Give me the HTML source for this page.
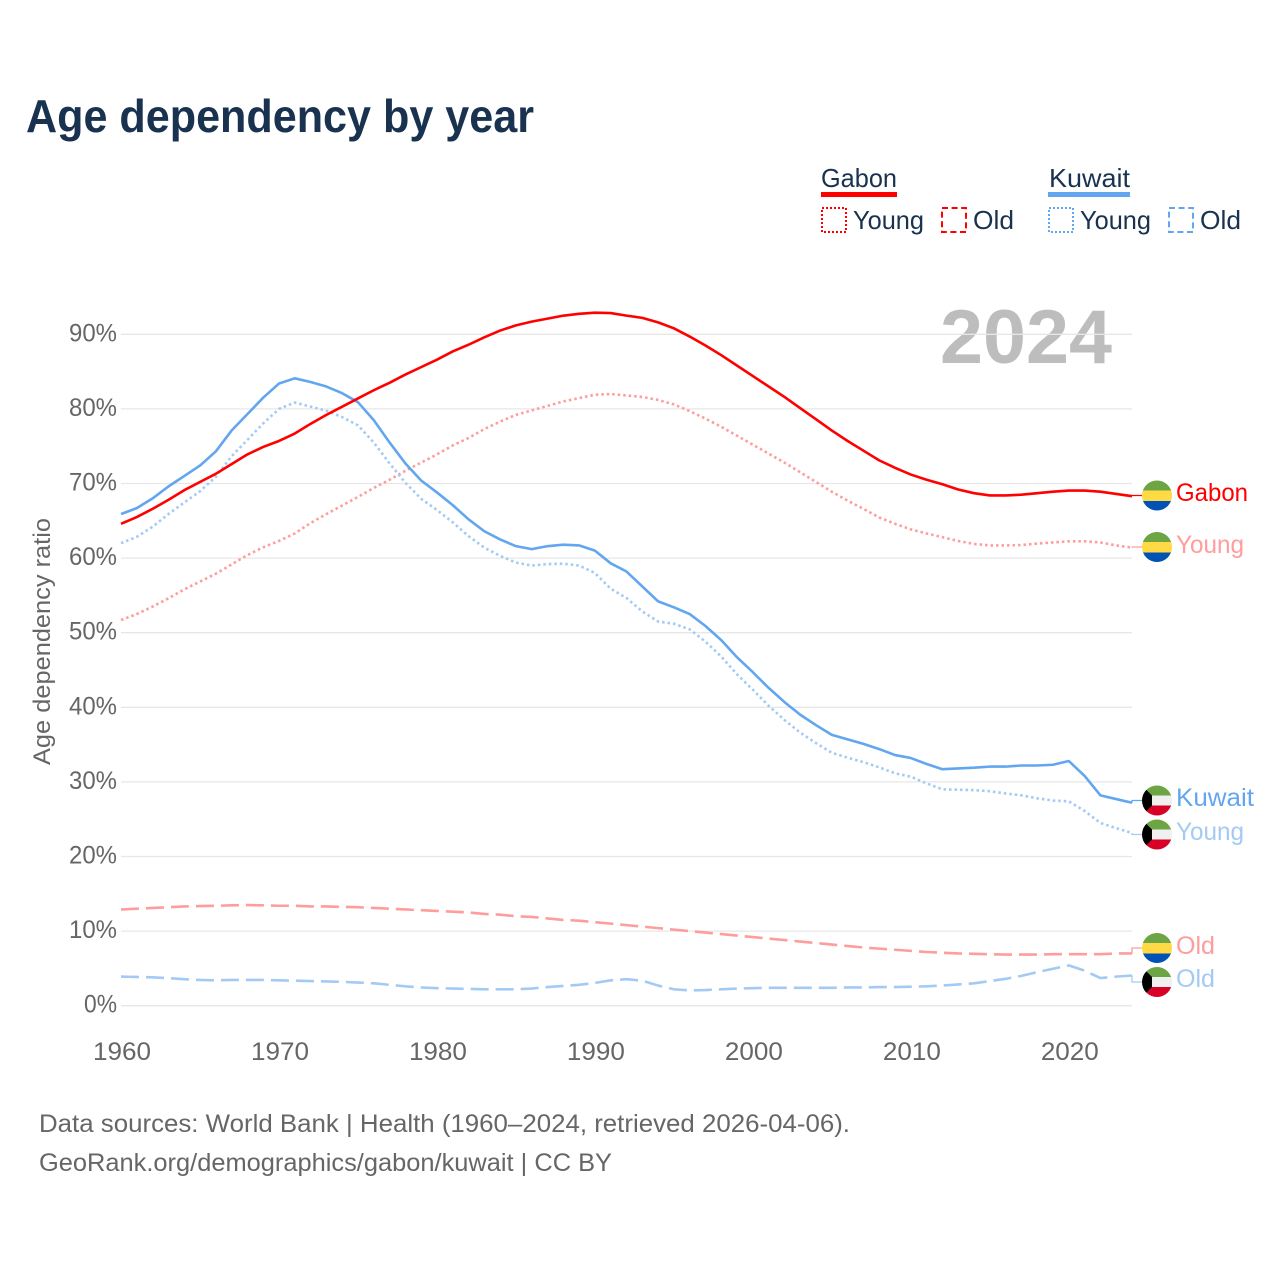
<!DOCTYPE html>
<html lang="en">
<head>
<meta charset="utf-8">
<title>Age dependency by year</title>
<style>
html,body{margin:0;padding:0;background:#fff}
svg{display:block}
text{font-family:"Liberation Sans",sans-serif}
</style>
</head>
<body>
<svg id="chart" xmlns="http://www.w3.org/2000/svg" width="1280" height="1280" viewBox="0 0 1280 1280">
<rect width="1280" height="1280" fill="#fff"/>
<text x="26" y="132" font-size="46" font-weight="700" fill="#18324f" textLength="508" lengthAdjust="spacingAndGlyphs">Age dependency by year</text>

<g font-size="26" fill="#18324f">
<text x="821" y="187" textLength="76" lengthAdjust="spacingAndGlyphs">Gabon</text>
<rect x="821" y="192" width="76" height="5" fill="#ff0000"/>
<rect x="822" y="208" width="24" height="24" fill="none" stroke="#ff0000" stroke-width="2" stroke-dasharray="2 2"/>
<text x="853" y="229" textLength="71" lengthAdjust="spacingAndGlyphs">Young</text>
<rect x="942" y="208" width="24" height="24" fill="none" stroke="#ff0000" stroke-width="2" stroke-dasharray="6 3.6"/>
<text x="973" y="229" textLength="41" lengthAdjust="spacingAndGlyphs">Old</text>
<text x="1049" y="187" textLength="81" lengthAdjust="spacingAndGlyphs">Kuwait</text>
<rect x="1048" y="192" width="82" height="5" fill="#62a6ef"/>
<rect x="1049" y="208" width="24" height="24" fill="none" stroke="#62a6ef" stroke-width="2" stroke-dasharray="2 2"/>
<text x="1080" y="229" textLength="71" lengthAdjust="spacingAndGlyphs">Young</text>
<rect x="1169" y="208" width="24" height="24" fill="none" stroke="#62a6ef" stroke-width="2" stroke-dasharray="6 3.6"/>
<text x="1200" y="229" textLength="41" lengthAdjust="spacingAndGlyphs">Old</text>
</g>

<text x="940" y="363" font-size="76" font-weight="700" fill="#bdbdbd" textLength="172" lengthAdjust="spacingAndGlyphs">2024</text>
<text transform="translate(50 765) rotate(-90)" font-size="24" fill="#666" textLength="247" lengthAdjust="spacingAndGlyphs">Age dependency ratio</text>

<g id="grid"></g>
<g id="yTickLabels"></g>
<g id="xTickLabels"></g>
<g id="series"></g>
<g id="connectors"></g>

<defs>
<clipPath id="flagClip"><circle cx="0" cy="0" r="15"/></clipPath>
</defs>

<g>
<g transform="translate(1157 495.5)" clip-path="url(#flagClip)"><rect x="-15" y="-15" width="30" height="10" fill="#6da544"/><rect x="-15" y="-5" width="30" height="10.5" fill="#ffda44"/><rect x="-15" y="5.5" width="30" height="10" fill="#0052b4"/></g>
<text x="1176" y="501" font-size="25" fill="#ff0000" textLength="72" lengthAdjust="spacingAndGlyphs">Gabon</text>
</g>
<g>
<g transform="translate(1157 547)" clip-path="url(#flagClip)"><rect x="-15" y="-15" width="30" height="10" fill="#6da544"/><rect x="-15" y="-5" width="30" height="10.5" fill="#ffda44"/><rect x="-15" y="5.5" width="30" height="10" fill="#0052b4"/></g>
<text x="1176" y="553" font-size="25" fill="#ff9c9c" textLength="68" lengthAdjust="spacingAndGlyphs">Young</text>
</g>
<g>
<g transform="translate(1157 800.5)" clip-path="url(#flagClip)"><rect x="-15" y="-15" width="30" height="10" fill="#6da544"/><rect x="-15" y="-5" width="30" height="10" fill="#f0f0f0"/><rect x="-15" y="5" width="30" height="10" fill="#d80027"/><polygon points="-15,-15 -5,-5 -5,5 -15,15" fill="#000"/></g>
<text x="1176" y="806" font-size="25" fill="#62a6ef" textLength="78" lengthAdjust="spacingAndGlyphs">Kuwait</text>
</g>
<g>
<g transform="translate(1157 834.5)" clip-path="url(#flagClip)"><rect x="-15" y="-15" width="30" height="10" fill="#6da544"/><rect x="-15" y="-5" width="30" height="10" fill="#f0f0f0"/><rect x="-15" y="5" width="30" height="10" fill="#d80027"/><polygon points="-15,-15 -5,-5 -5,5 -15,15" fill="#000"/></g>
<text x="1176" y="840" font-size="25" fill="#a3caf5" textLength="68" lengthAdjust="spacingAndGlyphs">Young</text>
</g>
<g>
<g transform="translate(1157 948)" clip-path="url(#flagClip)"><rect x="-15" y="-15" width="30" height="10" fill="#6da544"/><rect x="-15" y="-5" width="30" height="10.5" fill="#ffda44"/><rect x="-15" y="5.5" width="30" height="10" fill="#0052b4"/></g>
<text x="1176" y="954" font-size="25" fill="#ff9c9c" textLength="39" lengthAdjust="spacingAndGlyphs">Old</text>
</g>
<g>
<g transform="translate(1157 982)" clip-path="url(#flagClip)"><rect x="-15" y="-15" width="30" height="10" fill="#6da544"/><rect x="-15" y="-5" width="30" height="10" fill="#f0f0f0"/><rect x="-15" y="5" width="30" height="10" fill="#d80027"/><polygon points="-15,-15 -5,-5 -5,5 -15,15" fill="#000"/></g>
<text x="1176" y="987" font-size="25" fill="#a3caf5" textLength="39" lengthAdjust="spacingAndGlyphs">Old</text>
</g>

<text x="39" y="1132" font-size="25" fill="#666" textLength="811" lengthAdjust="spacingAndGlyphs">Data sources: World Bank | Health (1960–2024, retrieved 2026-04-06).</text>
<text x="39" y="1171" font-size="25" fill="#666" textLength="573" lengthAdjust="spacingAndGlyphs">GeoRank.org/demographics/gabon/kuwait | CC BY</text>
</svg>

<script>
const startYear = 1960;
const yTicks = [0, 10, 20, 30, 40, 50, 60, 70, 80, 90];
const xTicks = [1960, 1970, 1980, 1990, 2000, 2010, 2020];
const gabonTotal = [64.6,65.5,66.6,67.8,69.1,70.2,71.3,72.6,73.9,74.9,75.7,76.7,78.0,79.2,80.3,81.4,82.5,83.5,84.6,85.6,86.6,87.7,88.6,89.6,90.5,91.2,91.7,92.1,92.5,92.75,92.9,92.85,92.5,92.2,91.6,90.8,89.7,88.5,87.2,85.8,84.4,83.0,81.6,80.1,78.6,77.1,75.7,74.4,73.1,72.1,71.2,70.5,69.9,69.2,68.7,68.4,68.4,68.5,68.7,68.9,69.05,69.05,68.9,68.6,68.3];
const gabonYoung = [51.7,52.5,53.5,54.6,55.8,56.85,57.9,59.15,60.4,61.45,62.3,63.3,64.7,65.9,67.05,68.2,69.4,70.5,71.7,72.8,73.9,75.1,76.1,77.3,78.3,79.2,79.8,80.4,81.0,81.45,81.9,82.0,81.8,81.6,81.2,80.6,79.7,78.7,77.6,76.4,75.2,74.0,72.8,71.5,70.2,68.9,67.7,66.6,65.45,64.6,63.85,63.3,62.8,62.3,61.9,61.7,61.7,61.75,61.95,62.1,62.25,62.25,62.1,61.7,61.4];
const gabonOld = [12.9,13.0,13.1,13.2,13.3,13.35,13.4,13.45,13.5,13.45,13.4,13.4,13.3,13.3,13.25,13.2,13.1,13.0,12.9,12.8,12.7,12.6,12.5,12.3,12.2,12.0,11.9,11.7,11.5,11.4,11.2,11.0,10.8,10.6,10.4,10.2,10.0,9.8,9.6,9.4,9.2,9.0,8.8,8.6,8.4,8.2,8.0,7.8,7.65,7.5,7.35,7.2,7.1,7.0,6.95,6.9,6.85,6.85,6.85,6.9,6.9,6.9,6.9,7.0,7.0];
const kuwaitTotal = [65.9,66.7,68.0,69.6,71.0,72.4,74.3,77.1,79.3,81.5,83.4,84.1,83.6,83.0,82.1,80.9,78.5,75.5,72.7,70.4,68.8,67.1,65.2,63.6,62.5,61.6,61.2,61.6,61.8,61.7,61.0,59.3,58.2,56.2,54.2,53.4,52.5,50.9,49.0,46.7,44.7,42.6,40.7,39.0,37.6,36.3,35.7,35.1,34.4,33.6,33.2,32.4,31.7,31.8,31.9,32.05,32.05,32.2,32.2,32.3,32.8,30.8,28.2,27.7,27.2];
const kuwaitYoung = [62.0,62.85,64.2,65.9,67.45,68.95,70.9,73.65,75.85,78.05,80.0,80.85,80.3,79.75,78.9,77.8,75.5,72.7,70.1,67.95,66.45,64.8,62.95,61.4,60.3,59.4,59.0,59.2,59.25,59.0,58.0,55.9,54.65,52.85,51.5,51.2,50.45,48.8,46.8,44.4,42.35,40.2,38.3,36.6,35.2,33.9,33.25,32.65,31.95,31.15,30.7,29.8,29.0,28.95,28.9,28.75,28.45,28.2,27.8,27.5,27.4,26.1,24.5,23.8,23.15];
const kuwaitOld = [3.9,3.85,3.8,3.7,3.55,3.45,3.4,3.45,3.45,3.45,3.4,3.35,3.3,3.25,3.2,3.1,3.0,2.8,2.6,2.45,2.35,2.3,2.25,2.2,2.2,2.2,2.3,2.5,2.65,2.8,3.05,3.4,3.55,3.35,2.7,2.2,2.05,2.1,2.2,2.3,2.35,2.4,2.4,2.4,2.4,2.4,2.45,2.45,2.5,2.5,2.55,2.6,2.7,2.85,3.0,3.3,3.6,4.0,4.5,4.95,5.4,4.7,3.7,3.9,4.05];

const NS = 'http://www.w3.org/2000/svg';
const xScale = function (year) { return 121 + (year - 1960) * (1132 - 121) / 64; };
const yScale = function (v) { return 1005.7 - v * 7.46; };
const DOTTED = '2.5 3';
const DASHED = '18 7';

function make(tag, parent) {
  const el = document.createElementNS(NS, tag);
  document.getElementById(parent).appendChild(el);
  return el;
}

yTicks.forEach(function (t) {
  const line = make('line', 'grid');
  
  
  line.setAttribute('x1', xScale(1960));
  line.setAttribute('x2', xScale(2024));
  line.setAttribute('y1', yScale(t));
  line.setAttribute('y2', yScale(t));
  line.setAttribute('stroke', '#e7e7e7');
  line.setAttribute('stroke-width', '1.3');
  const label = make('text', 'yTickLabels');
  
  
  label.setAttribute('x', 117);
  label.setAttribute('y', yScale(t) + 7);
  label.setAttribute('text-anchor', 'end');
  label.setAttribute('font-size', '25');
  label.setAttribute('fill', '#666');
  label.textContent = t + '%';
  label.setAttribute('textLength', t === 0 ? 33 : 48);
  label.setAttribute('lengthAdjust', 'spacingAndGlyphs');
});

xTicks.forEach(function (t) {
  const label = make('text', 'xTickLabels');
  
  
  label.setAttribute('x', xScale(t) + 1);
  label.setAttribute('y', 1060);
  label.setAttribute('text-anchor', 'middle');
  label.setAttribute('font-size', '25');
  label.setAttribute('fill', '#666');
  label.setAttribute('textLength', 58);
  label.setAttribute('lengthAdjust', 'spacingAndGlyphs');
  label.textContent = t;
});

function drawSeries(values, name, color, dash, labelY) {
  const d = values.map(function (v, i) {
    return (i ? 'L' : 'M') + xScale(startYear + i).toFixed(2) + ' ' + yScale(v).toFixed(2);
  }).join(' ');
  const path = make('path', 'series');
  
  
  path.setAttribute('d', d);
  path.setAttribute('fill', 'none');
  path.setAttribute('stroke', color);
  path.setAttribute('stroke-width', '2.6');
  path.setAttribute('stroke-linejoin', 'round');
  if (dash) { path.setAttribute('stroke-dasharray', dash); }
  const endY = yScale(values[values.length - 1]);
  const conn = make('path', 'connectors');
  
  
  conn.setAttribute('d', 'M' + xScale(2024) + ' ' + endY.toFixed(2) + ' V' + labelY + ' H1142');
  conn.setAttribute('fill', 'none');
  conn.setAttribute('stroke', color);
  conn.setAttribute('stroke-width', '1.3');
}

drawSeries(gabonYoung, 'gabon-young', '#ff9c9c', DOTTED, 547);
drawSeries(gabonOld, 'gabon-old', '#ff9c9c', DASHED, 948);
drawSeries(kuwaitYoung, 'kuwait-young', '#a3caf5', DOTTED, 834.5);
drawSeries(kuwaitOld, 'kuwait-old', '#a3caf5', DASHED, 982);
drawSeries(kuwaitTotal, 'kuwait-total', '#62a6ef', null, 800.5);
drawSeries(gabonTotal, 'gabon-total', '#ff0000', null, 495.5);
</script>
</body>
</html>
